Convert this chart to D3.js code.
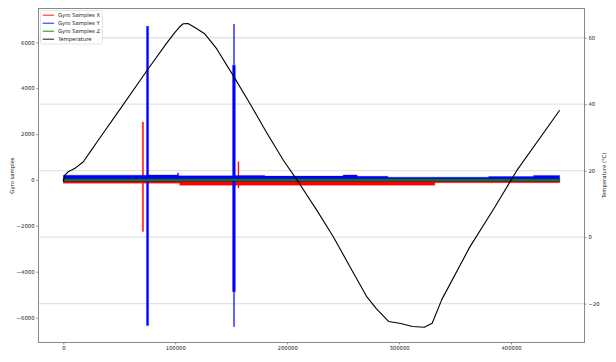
<!DOCTYPE html>
<html>
<head>
<meta charset="utf-8">
<script src="https://cdnjs.cloudflare.com/ajax/libs/d3/7.8.5/d3.min.js"></script>
<style>
    body { margin: 0; background: #fff; }
    svg text { font-family: "DejaVu Sans", sans-serif; fill: #222; }
</style>
</head>
<body>
<svg id="chart" width="616" height="362"></svg>
<script>
// temperature curve (sample index -> degC)
var tempSamples = [0, 1070, 4460, 10450, 17860, 23840, 32770, 52140, 74460, 92320, 99730, 104000,
    107140, 111340, 116070, 126000, 136960, 151790, 166700, 181610, 196430, 208390, 226250, 241070,
    255980, 270890, 279820, 290800, 301520, 311960, 322500, 329550, 338120, 363120, 385450, 405090, 443480];
var tempValues = [16.7, 18.5, 19.7, 20.7, 22.7, 25.6, 29.9, 39.2, 50, 58.4, 61.6, 63.3,
    64.2, 64.3, 63.4, 61.3, 56.7, 48.6, 40.2, 31.5, 23.2, 17.4, 8.2, 0.2,
    -8.8, -17.8, -21.6, -25.4, -26, -26.9, -27.1, -25.9, -18.8, -3, 9, 20, 38.2];

// gyro envelopes: [sample, low, high], holds until the next sample
var gyroX = [[0, -140, 50], [70600, -2250, 2530], [71700, -140, 50], [104000, -230, 50],
    [156000, -350, 800], [156900, -230, 50], [331900, -120, 50], [443480, -120, 50]];
var gyroY = [[0, -60, 210], [74300, -6350, 6700], [76200, -60, 220], [102000, -60, 300],
    [103000, -60, 180], [151200, -4870, 5000], [152100, -6400, 6800], [152900, -4870, 5000],
    [153700, -60, 200], [180000, -60, 170], [250000, -60, 220], [262500, -60, 160],
    [290000, -60, 120], [380000, -60, 150], [420000, -60, 200], [443480, -60, 200]];
var gyroZ = [[0, -40, 40], [443480, -40, 40]];

var xTicks = [0, 100000, 200000, 300000, 400000];
var leftTicks = [-6000, -4000, -2000, 0, 2000, 4000, 6000];
var rightTicks = [-20, 0, 20, 40, 60];

var series = [
    { name: "Gyro Samples X", color: "#ff0000", data: gyroX },
    { name: "Gyro Samples Y", color: "#0000ff", data: gyroY },
    { name: "Gyro Samples Z", color: "#008000", data: gyroZ },
    { name: "Temperature", color: "#000000", data: null }
];

var W = 616, H = 362;
var margin = { left: 38.5, right: 31.5, top: 8.5, bottom: 19.5 };
var plotR = W - margin.right, plotB = H - margin.bottom;

var svg = d3.select("#chart");

// x domain padded 5% like matplotlib
var xMax = d3.max(tempSamples);
var pad = xMax * 0.05;
var x = d3.scaleLinear().domain([-pad, xMax + pad]).range([margin.left, plotR]);
var yL = d3.scaleLinear().domain([-7087, 7478]).range([plotB, margin.top]);
var yR = d3.scaleLinear().domain([-31.7, 68.8]).range([plotB, margin.top]);

// grid from the temperature axis
svg.append("g").selectAll("line").data(rightTicks).enter().append("line")
    .attr("x1", margin.left).attr("x2", plotR)
    .attr("y1", function (d) { return yR(d); })
    .attr("y2", function (d) { return yR(d); })
    .attr("stroke", "#e3e3e3").attr("stroke-width", 1.3);

// gyro envelopes
var band = d3.area()
    .curve(d3.curveStepAfter)
    .x(function (d) { return x(d[0]); })
    .y0(function (d) { return yL(d[1]); })
    .y1(function (d) { return yL(d[2]); });

series.slice(0, 3).forEach(function (s) {
    svg.append("path")
        .datum(s.data)
        .attr("d", band)
        .attr("fill", s.color)
        .attr("stroke", s.color)
        .attr("stroke-width", 0.3);
});

// temperature line
var tempLine = d3.line()
    .x(function (d, i) { return x(tempSamples[i]); })
    .y(function (d) { return yR(d); });

svg.append("path")
    .datum(tempValues)
    .attr("d", tempLine)
    .attr("fill", "none")
    .attr("stroke", "#000")
    .attr("stroke-width", 1.1)
    .attr("stroke-linejoin", "round");

// frame
svg.append("rect")
    .attr("x", margin.left).attr("y", margin.top)
    .attr("width", plotR - margin.left).attr("height", plotB - margin.top)
    .attr("fill", "none").attr("stroke", "#888").attr("stroke-width", 1);

// axes
var fmt = d3.format("d");
function styleAxis(g) {
    g.select(".domain").remove();
    g.selectAll(".tick line").attr("stroke", "#888");
    g.selectAll(".tick text").attr("font-size", "5.3px").attr("fill", "#333");
}

svg.append("g")
    .attr("transform", "translate(0," + plotB + ")")
    .call(d3.axisBottom(x).tickValues(xTicks).tickFormat(fmt).tickSize(2).tickPadding(2))
    .call(styleAxis);

svg.append("g")
    .attr("transform", "translate(" + margin.left + ",0)")
    .call(d3.axisLeft(yL).tickValues(leftTicks).tickFormat(fmt).tickSize(2).tickPadding(2))
    .call(styleAxis);

svg.append("g")
    .attr("transform", "translate(" + plotR + ",0)")
    .call(d3.axisRight(yR).tickValues(rightTicks).tickFormat(fmt).tickSize(2).tickPadding(2))
    .call(styleAxis);

// axis labels
svg.append("text")
    .attr("transform", "translate(12," + ((margin.top + plotB) / 2) + ") rotate(-90)")
    .attr("text-anchor", "middle").attr("dominant-baseline", "central")
    .attr("font-size", "5.3px")
    .text("Gyro samples");

svg.append("text")
    .attr("transform", "translate(604," + ((margin.top + plotB) / 2) + ") rotate(-90)")
    .attr("text-anchor", "middle").attr("dominant-baseline", "central")
    .attr("font-size", "5.3px")
    .text("Temperature (°C)");

// legend
var legend = svg.append("g").attr("transform", "translate(40.5,10.5)");
legend.append("rect")
    .attr("width", 62).attr("height", 33.5).attr("rx", 2)
    .attr("fill", "#fff").attr("fill-opacity", 0.8)
    .attr("stroke", "#ddd").attr("stroke-width", 0.8);

var rows = legend.selectAll("g.row").data(series).enter().append("g")
    .attr("class", "row")
    .attr("transform", function (d, i) { return "translate(0," + (4.7 + i * 8) + ")"; });
rows.append("line")
    .attr("x1", 2.2).attr("x2", 13.5)
    .attr("stroke", function (d) { return d.color; })
    .attr("stroke-width", 0.9);
rows.append("text")
    .attr("x", 17.5).attr("dominant-baseline", "central")
    .attr("font-size", "5.3px")
    .text(function (d) { return d.name; });
</script>
</body>
</html>
